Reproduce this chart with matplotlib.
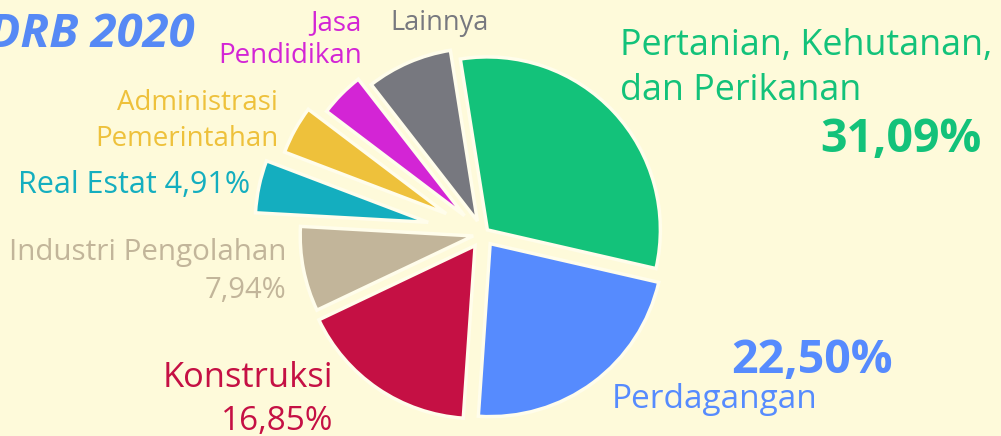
import matplotlib.pyplot as plt

plt.rcParams['font.family'] = ['Open Sans', 'DejaVu Sans']

# Struktur PDRB 2020 per lapangan usaha (%)
sektor = ['Pertanian, Kehutanan, dan Perikanan', 'Perdagangan', 'Konstruksi',
          'Industri Pengolahan', 'Real Estat', 'Administrasi Pemerintahan',
          'Jasa Pendidikan', 'Lainnya']
nilai = [31.09, 22.50, 16.85, 7.94, 4.91, 4.52, 4.17, 8.02]
warna = ['#13C27A', '#568BFE', '#C51044', '#C2B59A', '#14AEBF', '#EEC13B',
         '#D325D5', '#77787F']
geser = [6, 12, 14, 10, 56, 42, 26, 14]

bg = '#FEFADA'

def persen(v):
    return f'{v:.2f}%'.replace('.', ',')

fig = plt.figure(figsize=(10.01, 4.36), dpi=100, facecolor=bg)
ax = fig.add_axes([0, 0, 1, 1])
ax.set_facecolor(bg)

# koordinat sumbu = piksel gambar (y ke atas)
H = 436
ax.pie(nilai, colors=warna, explode=geser, radius=173, center=(483, H - 234),
       startangle=99, counterclock=False,
       wedgeprops=dict(edgecolor='#FFFDEB', linewidth=2.5))
ax.set_xlim(0, 1001)
ax.set_ylim(0, H)
ax.set_aspect('equal')
ax.axis('off')

def tulis(x, y, s, c, size, ha='right', weight='normal', style='normal'):
    ax.text(x, H - y, s, color=c, fontsize=size, ha=ha, va='baseline',
            fontweight=weight, fontstyle=style)

tulis(195, 47, 'PDRB 2020', '#5689F5', 34, weight='bold', style='italic')

tulis(362, 30, 'Jasa', warna[6], 20)
tulis(362, 63, 'Pendidikan', warna[6], 20)
tulis(390, 30, 'Lainnya', warna[7], 19.5, ha='left')
tulis(278, 110, 'Administrasi', warna[5], 20)
tulis(278, 146, 'Pemerintahan', warna[5], 20)
tulis(250, 193, 'Real Estat ' + persen(nilai[4]), warna[4], 22)
tulis(286, 260, 'Industri Pengolahan', warna[3], 21.3)
tulis(286, 298, persen(nilai[3]), warna[3], 21)
tulis(333, 387, 'Konstruksi', warna[2], 24.8)
tulis(333, 430, persen(nilai[2]), warna[2], 24)

tulis(620, 55, 'Pertanian, Kehutanan,', warna[0], 25.8, ha='left')
tulis(620, 100, 'dan Perikanan', warna[0], 25.8, ha='left')
tulis(982, 152, persen(nilai[0]), warna[0], 33.5, weight='bold')
tulis(893, 373, persen(nilai[1]), warna[1], 33.5, weight='bold')
tulis(612, 408, 'Perdagangan', warna[1], 24, ha='left')

fig.savefig('out.png', dpi=100, facecolor=bg)
